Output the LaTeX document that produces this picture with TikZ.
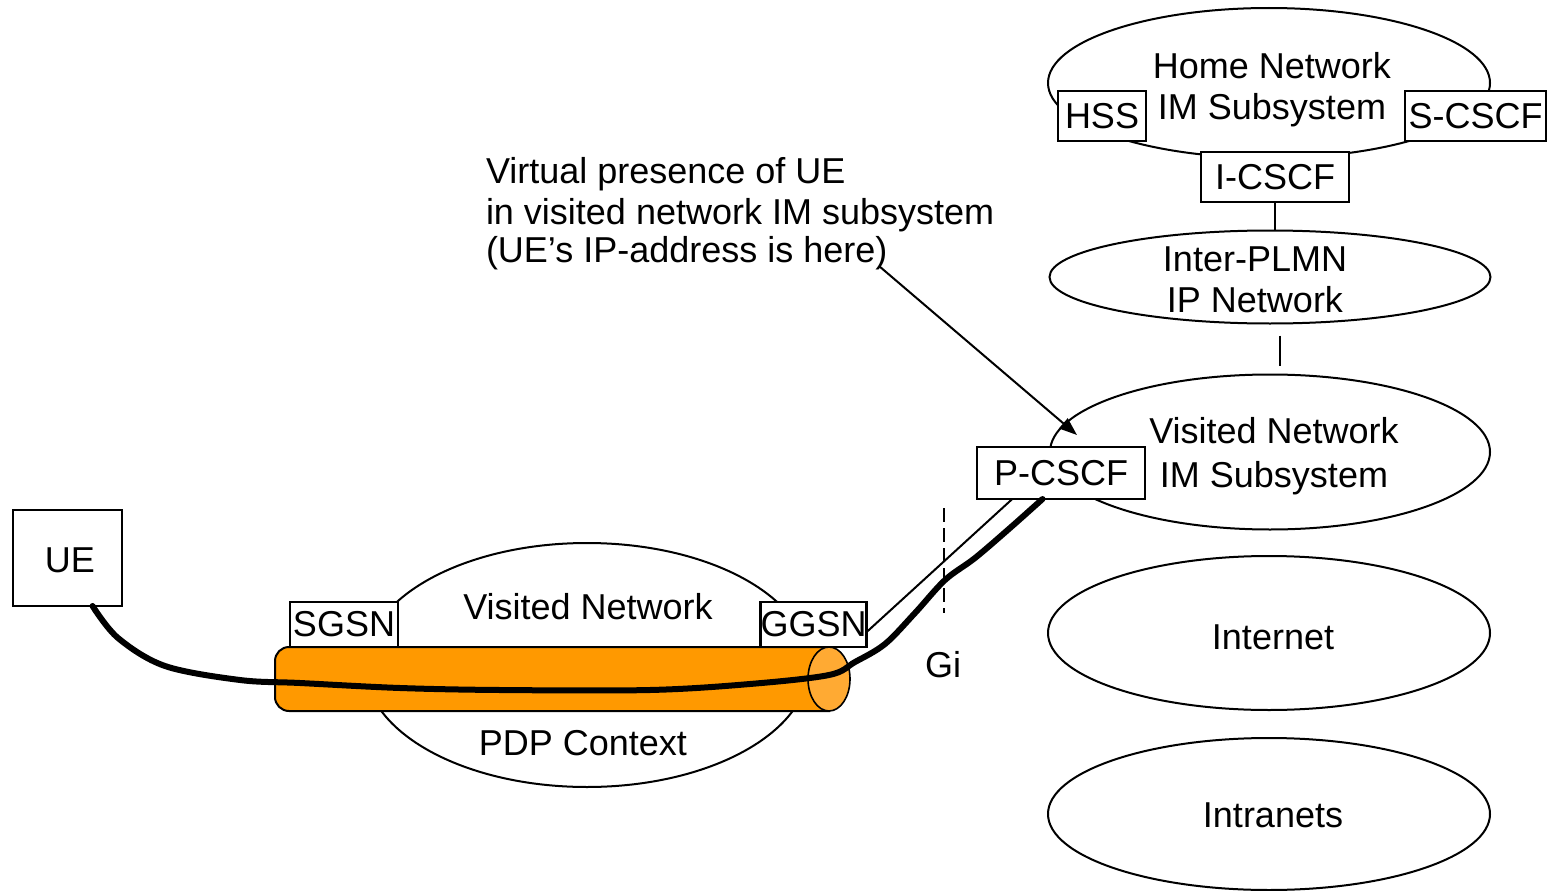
\documentclass[tikz,border=0pt]{standalone}
\usepackage{fontspec}
\setmainfont{Liberation Sans}
\usetikzlibrary{shapes.geometric,arrows.meta,calc}
\definecolor{tubeorange}{HTML}{FF9900}
\definecolor{caporange}{HTML}{FFAA33}
\begin{document}
\begin{tikzpicture}[x=1pt,y=-1pt,
  every node/.style={font=\fontsize{36}{41}\selectfont, inner sep=0pt, outer sep=0pt},
  box/.style={draw, line width=2.4pt, fill=white, rectangle},
  net/.style={draw, line width=2pt, ellipse, align=center},
  link/.style={line width=2pt},
  tunnel/.style={line width=6pt, line cap=round, line join=round},
  txt/.style={align=center}]
\useasboundingbox (0,0) rectangle (1548,891);

% ---- visited network (GPRS) with PDP context ----
\node[net, minimum width=444pt, minimum height=244pt] (visnet) at (587,665) {};
\node[txt] (visnetlbl) at (588,607) {Visited Network};
\node[txt] (pdplbl) at (583,743) {PDP Context};
\node[box, minimum width=108pt, minimum height=45pt] (sgsn) at (344,624.5) {SGSN};
\node[box, minimum width=103pt, minimum height=45pt] (ggsn) at (813.5,624.5) {GGSN};

% tube
\draw[line width=2pt, fill=tubeorange] (829,647) [rounded corners=14pt] -- (275,647) -- (275,711) [sharp corners] -- (829,711) -- cycle;
\draw[line width=1.6pt, fill=caporange] (829,679) ellipse [x radius=21, y radius=32];

% ---- UE ----
\node[box, minimum width=109pt, minimum height=96pt] (ue) at (67.5,558) {};
\node (uelbl) at (70,560) {UE};

% ---- right hand networks ----
\node[net, minimum width=442pt, minimum height=150pt] (home) at (1269,83) {};
\node[txt] (homelbl) at (1272,90) {Home Network\\IM Subsystem};
\node[box, minimum width=88pt, minimum height=50pt] (hss) at (1102,116) {HSS};
\node[box, minimum width=141pt, minimum height=50pt] (scscf) at (1475.5,116) {S-CSCF};
\node[box, minimum width=148pt, minimum height=50pt] (icscf) at (1275,177) {I-CSCF};

\node[net, minimum width=441pt, minimum height=93pt] (inter) at (1270,277) {};
\node[txt] (interlbl) at (1255,280) {Inter-PLMN\\IP Network};

\node[net, minimum width=440pt, minimum height=155pt] (visim) at (1270,452) {};
\node[txt] (visimlbl) at (1274,456) {Visited Network\\[3pt]IM Subsystem};
\node[box, minimum width=168pt, minimum height=52pt] (pcscf) at (1061,473) {P-CSCF};

\node[net, minimum width=442pt, minimum height=154pt] (internet) at (1269,633) {};
\node (internetlbl) at (1273,637) {Internet};
\node[net, minimum width=442pt, minimum height=152pt] (intranets) at (1269,814) {};
\node (intranetslbl) at (1273,815) {Intranets};

% ---- connectors ----
\draw[link] (icscf.south) -- (icscf.south |- inter.north);
\draw[link, shorten <=12pt, shorten >=9pt] ($(inter.south)+(10,0)$) -- ($(visim.north)+(10,0)$);

% Gi reference line and label
\draw[line width=1.6pt, dash pattern=on 14pt off 6pt] (944,508) -- (944,613);
\node (gi) at (943,665) {Gi};

% thin signalling line GGSN -> P-CSCF
\draw[line width=2pt] ($(ggsn.north east)!0.67!(ggsn.south east)$) -- ($(pcscf.south west)!0.21!(pcscf.south east)$);

% tunnel UE -> P-CSCF
\coordinate (t0) at ($(ue.south west)!0.73!(ue.south east)$);
\coordinate (t1) at ($(pcscf.south west)!0.39!(pcscf.south east)$);
\draw[tunnel] plot[smooth, tension=0.55] coordinates {(t0) (118,638) (165,666) (240,680) (300,683) (400,688) (500,690) (650,690) (750,684) (829,675) (855,662) (885,644) (915,613) (945,580) (975,558) (1010,528) (t1)};

% annotation
\node[anchor=north west, align=left] (note) at (486,157) {Virtual presence of UE\\in visited network IM subsystem\\[-3pt](UE’s IP-address is here)};
\coordinate (atail) at (879,266);
\coordinate (ahead) at (1077,435);
\draw[line width=2pt, -{Triangle[length=18pt,width=13pt]}] (atail) -- (ahead);
\end{tikzpicture}
\end{document}
